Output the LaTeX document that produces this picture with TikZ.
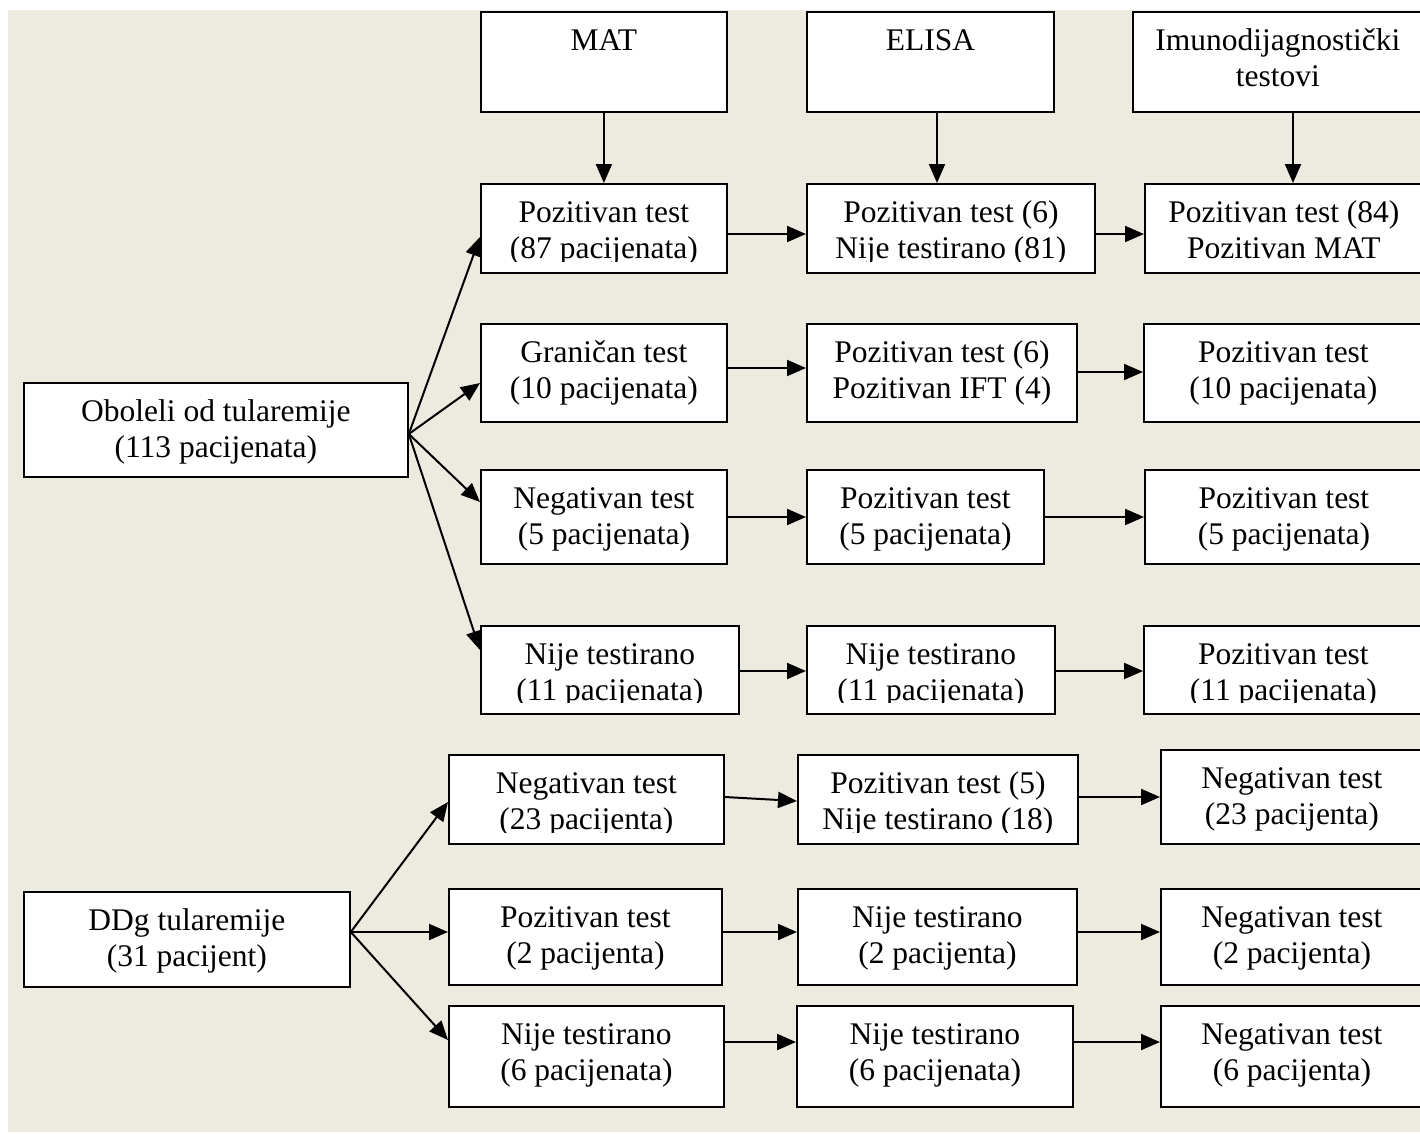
\documentclass[tikz,border=0pt]{standalone}
\usepackage{fontspec}
\setmainfont{Liberation Serif}
\usetikzlibrary{arrows.meta}
\definecolor{bgbeige}{RGB}{237,234,224}
\tikzset{
  bx/.style={draw=black, fill=white, line width=1.8pt, inner sep=0pt, anchor=north west},
  txt/.style={anchor=base, inner sep=0pt, font=\fontsize{31.5}{36}\selectfont},
  arr/.style={line width=2pt, -{Triangle[length=19pt,width=16pt]}}
}
\newcommand\tbox[7]{%
  \node[bx, minimum width=#4pt-#2pt, minimum height=#5pt-#3pt,
    path picture={
      \clip ([yshift=11pt]path picture bounding box.south west) rectangle (path picture bounding box.north east);
      \node[txt] at ([yshift=-39pt]path picture bounding box.north) {#6};
      \node[txt] at ([yshift=-75pt]path picture bounding box.north) {#7};
    }] (#1) at (#2,#3) {};}
\begin{document}
\begin{tikzpicture}[x=1pt,y=-1pt]
\useasboundingbox (0,0) rectangle (1420,1133);
\fill[white] (0,0) rectangle (1420,1133);
\fill[bgbeige] (8,10) rectangle (1420,1132);
% headers
\tbox{hmat}{480}{11}{726}{111}{MAT}{}
\tbox{hel}{806}{11}{1053}{111}{ELISA}{}
\tbox{him}{1132}{11}{1422}{111}{Imunodijagnostički}{testovi}
% upper group
\tbox{ob}{23}{382}{407}{476}{Oboleli od tularemije}{(113 pacijenata)}
\tbox{m1}{480}{183}{726}{272}{Pozitivan test}{(87 pacijenata)}
\tbox{e1}{806}{183}{1094}{272}{Pozitivan test (6)}{Nije testirano (81)}
\tbox{i1}{1144}{183}{1422}{272}{Pozitivan test (84)}{Pozitivan MAT}
\tbox{m2}{480}{323}{726}{421}{Graničan test}{(10 pacijenata)}
\tbox{e2}{806}{323}{1076}{421}{Pozitivan test (6)}{Pozitivan IFT (4)}
\tbox{i2}{1143}{323}{1422}{421}{Pozitivan test}{(10 pacijenata)}
\tbox{m3}{480}{469}{726}{563}{Negativan test}{(5 pacijenata)}
\tbox{e3}{806}{469}{1043}{563}{Pozitivan test}{(5 pacijenata)}
\tbox{i3}{1144}{469}{1422}{563}{Pozitivan test}{(5 pacijenata)}
\tbox{m4}{480}{625}{738}{713}{Nije testirano}{(11 pacijenata)}
\tbox{e4}{806}{625}{1054}{713}{Nije testirano}{(11 pacijenata)}
\tbox{i4}{1143}{625}{1422}{713}{Pozitivan test}{(11 pacijenata)}
% lower group
\tbox{dd}{23}{891}{349}{986}{DDg tularemije}{(31 pacijent)}
\tbox{m5}{448}{754}{723}{843}{Negativan test}{(23 pacijenta)}
\tbox{e5}{797}{754}{1077}{843}{Pozitivan test (5)}{Nije testirano (18)}
\tbox{i5}{1160}{749}{1422}{843}{Negativan test}{(23 pacijenta)}
\tbox{m6}{448}{888}{721}{984}{Pozitivan test}{(2 pacijenta)}
\tbox{e6}{797}{888}{1076}{984}{Nije testirano}{(2 pacijenta)}
\tbox{i6}{1160}{888}{1422}{984}{Negativan test}{(2 pacijenta)}
\tbox{m7}{448}{1005}{723}{1106}{Nije testirano}{(6 pacijenata)}
\tbox{e7}{796}{1005}{1072}{1106}{Nije testirano}{(6 pacijenata)}
\tbox{i7}{1160}{1005}{1422}{1106}{Negativan test}{(6 pacijenta)}
% header arrows
\draw[arr] (hmat.south) -- (m1.north);
\draw[arr] (hel.south -| 937,0) -- (e1.north -| 937,0);
\draw[arr] (him.south -| 1293,0) -- (i1.north -| 1293,0);
% fan-out arrows
\draw[arr] (ob.east |- 0,434) -- (m1.west |- 0,237);
\draw[arr] (ob.east |- 0,434) -- (m2.west |- 0,383);
\draw[arr] (ob.east |- 0,434) -- (m3.west |- 0,502);
\draw[arr] (ob.east |- 0,434) -- (m4.west |- 0,650);
\draw[arr] (dd.east |- 0,932) -- (m5.west |- 0,802);
\draw[arr] (dd.east |- 0,932) -- (m6.west |- 0,932);
\draw[arr] (dd.east |- 0,932) -- (m7.west |- 0,1040);
% row arrows
\draw[arr] (m1.east |- 0,234) -- (e1.west |- 0,234);
\draw[arr] (e1.east |- 0,234) -- (i1.west |- 0,234);
\draw[arr] (m2.east |- 0,368) -- (e2.west |- 0,368);
\draw[arr] (e2.east |- 0,372) -- (i2.west |- 0,372);
\draw[arr] (m3.east |- 0,517) -- (e3.west |- 0,517);
\draw[arr] (e3.east |- 0,517) -- (i3.west |- 0,517);
\draw[arr] (m4.east |- 0,671) -- (e4.west |- 0,671);
\draw[arr] (e4.east |- 0,671) -- (i4.west |- 0,671);
\draw[arr] (m5.east |- 0,797) -- (e5.west |- 0,801);
\draw[arr] (e5.east |- 0,797) -- (i5.west |- 0,797);
\draw[arr] (m6.east |- 0,932) -- (e6.west |- 0,932);
\draw[arr] (e6.east |- 0,932) -- (i6.west |- 0,932);
\draw[arr] (m7.east |- 0,1042) -- (e7.west |- 0,1042);
\draw[arr] (e7.east |- 0,1042) -- (i7.west |- 0,1042);
\end{tikzpicture}
\end{document}
